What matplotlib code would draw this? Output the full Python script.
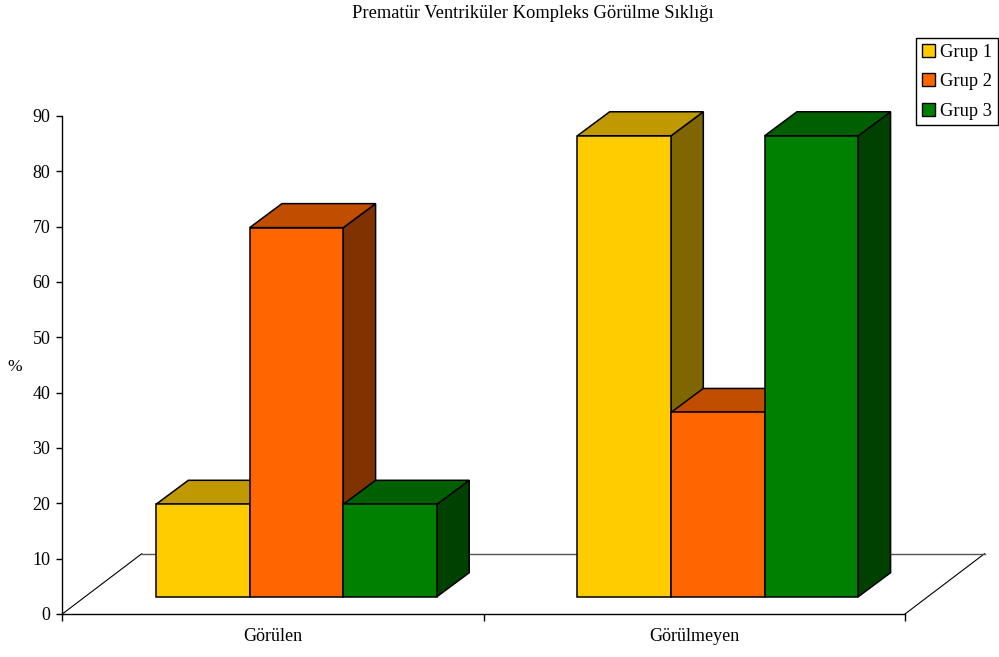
import matplotlib
matplotlib.use("Agg")
import matplotlib.pyplot as plt
from matplotlib.patches import Polygon, Patch

plt.rcParams['font.family'] = ['Liberation Serif', 'DejaVu Serif']

# ---- data ----
title = "Prematür Ventriküler Kompleks Görülme Sıklığı"
categories = ["Görülen", "Görülmeyen"]
series_names = ["Grup 1", "Grup 2", "Grup 3"]
grup1 = [16.7, 83.3]
grup2 = [66.7, 33.3]
grup3 = [16.7, 83.3]
y_ticks = [0, 10, 20, 30, 40, 50, 60, 70, 80, 90]
y_label = "%"

series = [grup1, grup2, grup3]
front_colors = ["#FFCC00", "#FF6600", "#008000"]
top_colors = ["#C09900", "#C04D00", "#006000"]
side_colors = ["#806600", "#803300", "#004000"]

W, H = 999, 657
fig = plt.figure(figsize=(W / 100, H / 100), dpi=100)
x0, x1, y0, y1 = 62.3, 905.0, 614.0, 116.0
ax = fig.add_axes([x0 / W, 1 - y0 / H, (x1 - x0) / W, (y0 - y1) / H])
ax.set_xlim(0, len(categories))
ax.set_ylim(0, 90)
px_x = len(categories) / (x1 - x0)
px_y = 90 / (y0 - y1)

# oblique projection offsets (pixels -> data units)
floor_dx, floor_dy = 79.5 * px_x, 60.3 * px_y
front_dx, front_dy = 23.5 * px_x, 17.3 * px_y
depth_dx, depth_dy = 32.3 * px_x, 24.0 * px_y
gap_width = 1.5
bw = 1.0 / (len(series) + gap_width)

n = len(categories)
# floor
floor = Polygon([(0, 0), (n, 0), (n + floor_dx, floor_dy), (floor_dx, floor_dy)],
                closed=True, facecolor="white", edgecolor="none", clip_on=False, zorder=1)
ax.add_patch(floor)
ax.plot([0, floor_dx], [0, floor_dy], color="black", lw=0.8, clip_on=False, zorder=1.5)
ax.plot([n, n + floor_dx], [0, floor_dy], color="black", lw=0.8, clip_on=False, zorder=1.5)
ax.plot([floor_dx, n + floor_dx], [floor_dy, floor_dy], color="#555555", lw=1.0,
        clip_on=False, zorder=1.5)

z = 2
for i in range(n):
    for j, vals in enumerate(series):
        v = vals[i]
        xl = i + 0.5 - len(series) * bw / 2 + j * bw + front_dx
        xr = xl + bw
        yb = front_dy
        yt = front_dy + v
        side = [(xr, yb), (xr + depth_dx, yb + depth_dy), (xr + depth_dx, yt + depth_dy), (xr, yt)]
        top = [(xl, yt), (xr, yt), (xr + depth_dx, yt + depth_dy), (xl + depth_dx, yt + depth_dy)]
        front = [(xl, yb), (xr, yb), (xr, yt), (xl, yt)]
        for poly, col in ((side, side_colors[j]), (top, top_colors[j]), (front, front_colors[j])):
            ax.add_patch(Polygon(poly, closed=True, facecolor=col, edgecolor="black",
                                 lw=1.1, joinstyle="miter", clip_on=False, zorder=z))
        z += 1

# axes styling
for s in ["top", "right"]:
    ax.spines[s].set_visible(False)
ax.spines["left"].set_linewidth(1.0)
ax.spines["bottom"].set_linewidth(1.0)
ax.spines["left"].set_zorder(0.5)
ax.set_yticks(y_ticks)
ax.set_yticklabels([str(t) for t in y_ticks])
ax.tick_params(axis="y", direction="out", length=4.5, width=1, pad=4, labelsize=13)
ax.set_xticks(range(n + 1))
ax.set_xticklabels([])
ax.set_xticks([i + 0.5 for i in range(n)], minor=True)
ax.set_xticklabels(categories, minor=True)
ax.tick_params(axis="x", which="major", direction="out", length=5, width=1)
ax.tick_params(axis="x", which="minor", length=0, pad=10, labelsize=13)
ax.patch.set_visible(False)

fig.text(533 / W, 1 - 14 / H, title, ha="center", va="center", fontsize=13.3)
fig.text(15 / W, 1 - 367 / H, y_label, ha="center", va="center", fontsize=12.5)

handles = [Patch(facecolor=front_colors[j], edgecolor="black", lw=1) for j in range(len(series))]
leg = fig.legend(handles, series_names, loc="upper right",
                 bbox_to_anchor=(998 / W, 1 - 38 / H), fontsize=13.3,
                 frameon=True, fancybox=False, framealpha=1, edgecolor="black",
                 handlelength=0.7, handleheight=0.7, handletextpad=0.3,
                 labelspacing=0.68, borderpad=0.3, borderaxespad=0)
leg.get_frame().set_linewidth(1.0)

fig.savefig("out.png", dpi=100, facecolor="white")
